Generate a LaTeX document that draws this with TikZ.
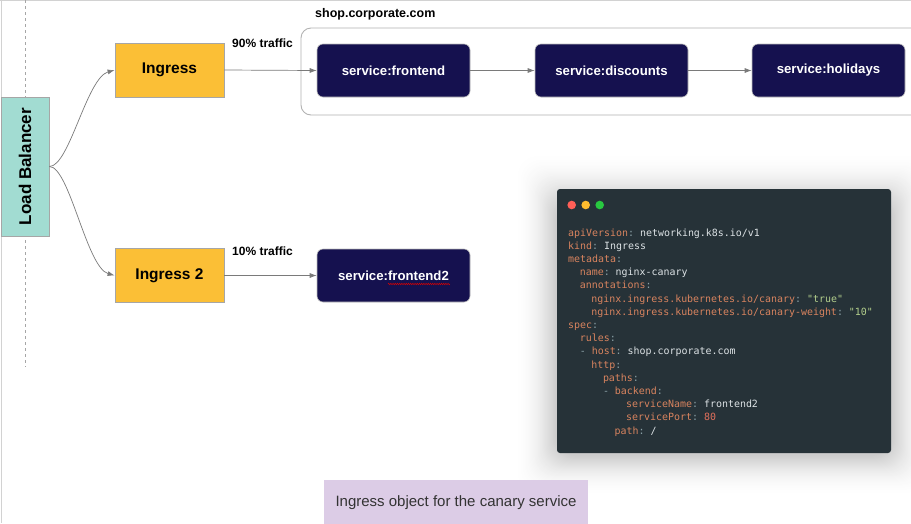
\documentclass[tikz,border=0pt]{standalone}
\usepackage{fontspec}
\setmainfont{Liberation Sans}
\setsansfont{Liberation Sans}
\setmonofont{DejaVu Sans Mono}
\usetikzlibrary{arrows.meta,decorations.pathmorphing}
\definecolor{lbteal}{HTML}{A2DCD2}
\definecolor{amber}{HTML}{FBBF36}
\definecolor{navy}{HTML}{15114F}
\definecolor{capbg}{HTML}{DCCCE6}
\definecolor{codebg}{HTML}{263238}
\definecolor{ykey}{HTML}{D9845F}
\definecolor{ycolon}{HTML}{8AA0A6}
\definecolor{yval}{HTML}{DDE3E6}
\definecolor{ystr}{HTML}{B3CF8C}
\definecolor{ynum}{HTML}{E2705C}
\definecolor{edgegray}{HTML}{7A7A7A}
\definecolor{dotred}{HTML}{FF5F57}
\definecolor{dotyellow}{HTML}{FEBC2E}
\definecolor{dotgreen}{HTML}{28C840}
\newcommand\yk[1]{\textcolor{ykey}{#1}\textcolor{ycolon}{:}}
\newcommand\yv[1]{\textcolor{yval}{#1}}
\newcommand\ys[1]{\textcolor{ystr}{#1}}
\newcommand\yn[1]{\textcolor{ynum}{#1}}
\newcommand\yd{\textcolor{ycolon}{-}}
\tikzset{
  ingbox/.style={draw=gray!70, line width=0.8pt, fill=amber, minimum width=109pt, minimum height=54pt, inner sep=0pt, font=\fontsize{15.5}{18}\selectfont\bfseries},
  svcbox/.style={draw=gray!50, line width=0.6pt, fill=navy, rounded corners=6pt, minimum width=153pt, minimum height=53pt, inner sep=0pt, text=white, font=\fontsize{13.2}{15}\selectfont\bfseries},
  flow/.style={draw=edgegray, line width=0.7pt, -{Latex[length=7pt,width=5pt]}},
  lbl/.style={anchor=west, inner sep=0pt, font=\fontsize{12}{14}\selectfont\bfseries},
  codeline/.style={anchor=base west, inner sep=0pt, font=\fontsize{9.95}{12}\selectfont\ttfamily},
  dot/.style={circle, inner sep=0pt, minimum size=8.6pt}
}
\begin{document}
\begin{tikzpicture}[x=1pt,y=-1pt]
\useasboundingbox (0,0) rectangle (911,523);
\clip (0,0) rectangle (911,523);
\fill[white] (0,0) rectangle (911,523);
% frame lines
\draw[gray!35, line width=1pt] (1,0) -- (1,523);
\draw[gray!35, line width=1pt] (0,0.5) -- (911,0.5);
% dashed guide
\draw[gray!70, line width=0.7pt, dash pattern=on 3pt off 3pt] (25,0) -- (25,367);
% load balancer
\node[draw=gray!70, line width=0.8pt, fill=lbteal, rotate=90, minimum width=139pt, minimum height=48pt, inner sep=0pt, font=\fontsize{17}{20}\selectfont\bfseries] (lb) at (25,166.5) {Load Balancer};
% ingresses
\node[ingbox] (ing) at (169.5,70) {Ingress};
\node[ingbox] (ing2) at (169.5,275.5) {Ingress 2};
% group container
\node[draw=gray!60, line width=0.9pt, rounded corners=10pt, minimum width=624pt, minimum height=87pt, inner sep=0pt] (grp) at (613,71.5) {};
\node[lbl, font=\fontsize{12.5}{14}\selectfont\bfseries] (host) at (315,14) {shop.corporate.com};
% services
\node[svcbox] (fe) at (393.5,70.5) {service:frontend};
\node[svcbox] (disc) at (611.5,70.5) {service:discounts};
\node[svcbox] (hol) at (828.5,70.5) {service:holidays};
\node[svcbox] (fe2) at (393.5,275.5) {service:frontend2};
\draw[red!85!black, line width=0.45pt, decorate, decoration={snake, amplitude=0.8pt, segment length=2.2pt}] (388,284) -- (450,284);
% traffic labels
\node[lbl] (t90) at (232,43) {90\% traffic};
\node[lbl] (t10) at (232,251) {10\% traffic};
% connectors
\draw[flow] (lb.south) .. controls +(20,0) and +(-28,8) .. (ing.west);
\draw[flow] (lb.south) .. controls +(20,0) and +(-28,-8) .. (ing2.west);
\draw[flow] (ing.east) -- (fe.west);
\draw[flow] (fe.east) -- (disc.west);
\draw[flow] (disc.east) -- (hol.west);
\draw[flow] (ing2.east) -- (fe2.west);
% code window shadow (opaque nested fills, light to dark)
\foreach \i in {40,39,...,1} {
  \pgfmathsetmacro\shd{20*((41-\i)/40)^2}
  \fill[black!\shd, rounded corners=20pt] (557-\i*1.05,201-\i*1.2) rectangle (891+\i*1.05,455+\i*1.0);
}
\node[fill=codebg, rounded corners=3pt, minimum width=334pt, minimum height=264pt, inner sep=0pt] (code) at (724,321) {};
\node[dot, fill=dotred] (d1) at (571.7,205) {};
\node[dot, fill=dotyellow] (d2) at (585.7,205) {};
\node[dot, fill=dotgreen] (d3) at (599.7,205) {};
% code lines
\node[codeline] (c1) at (568,236) {\yk{apiVersion} \yv{networking.k8s.io/v1}};
\node[codeline] (c2) at (568,249.2) {\yk{kind} \yv{Ingress}};
\node[codeline] (c3) at (568,262.4) {\yk{metadata}};
\node[codeline] (c4) at (568+2*5.8,275.6) {\yk{name} \yv{nginx-canary}};
\node[codeline] (c5) at (568+2*5.8,288.8) {\yk{annotations}};
\node[codeline] (c6) at (568+4*5.8,302) {\yk{nginx.ingress.kubernetes.io/canary} \ys{"true"}};
\node[codeline] (c7) at (568+4*5.8,315.2) {\yk{nginx.ingress.kubernetes.io/canary-weight} \ys{"10"}};
\node[codeline] (c8) at (568,328.4) {\yk{spec}};
\node[codeline] (c9) at (568+2*5.8,341.6) {\yk{rules}};
\node[codeline] (c10) at (568+2*5.8,354.8) {\yd{} \yk{host} \yv{shop.corporate.com}};
\node[codeline] (c11) at (568+4*5.8,368) {\yk{http}};
\node[codeline] (c12) at (568+6*5.8,381.2) {\yk{paths}};
\node[codeline] (c13) at (568+6*5.8,394.4) {\yd{} \yk{backend}};
\node[codeline] (c14) at (568+10*5.8,407.6) {\yk{serviceName} \yv{frontend2}};
\node[codeline] (c15) at (568+10*5.8,420.8) {\yk{servicePort} \yn{80}};
\node[codeline] (c16) at (568+8*5.8,434) {\yk{path} \yv{/}};
% caption
\node[fill=capbg, minimum width=264pt, minimum height=46pt, inner sep=0pt, anchor=north west] (capbox) at (324,479.5) {};
\node[text=black!80, font=\fontsize{15}{18}\selectfont, inner sep=0pt] (cap) at (456,502.7) {Ingress object for the canary service};
\end{tikzpicture}
\end{document}
